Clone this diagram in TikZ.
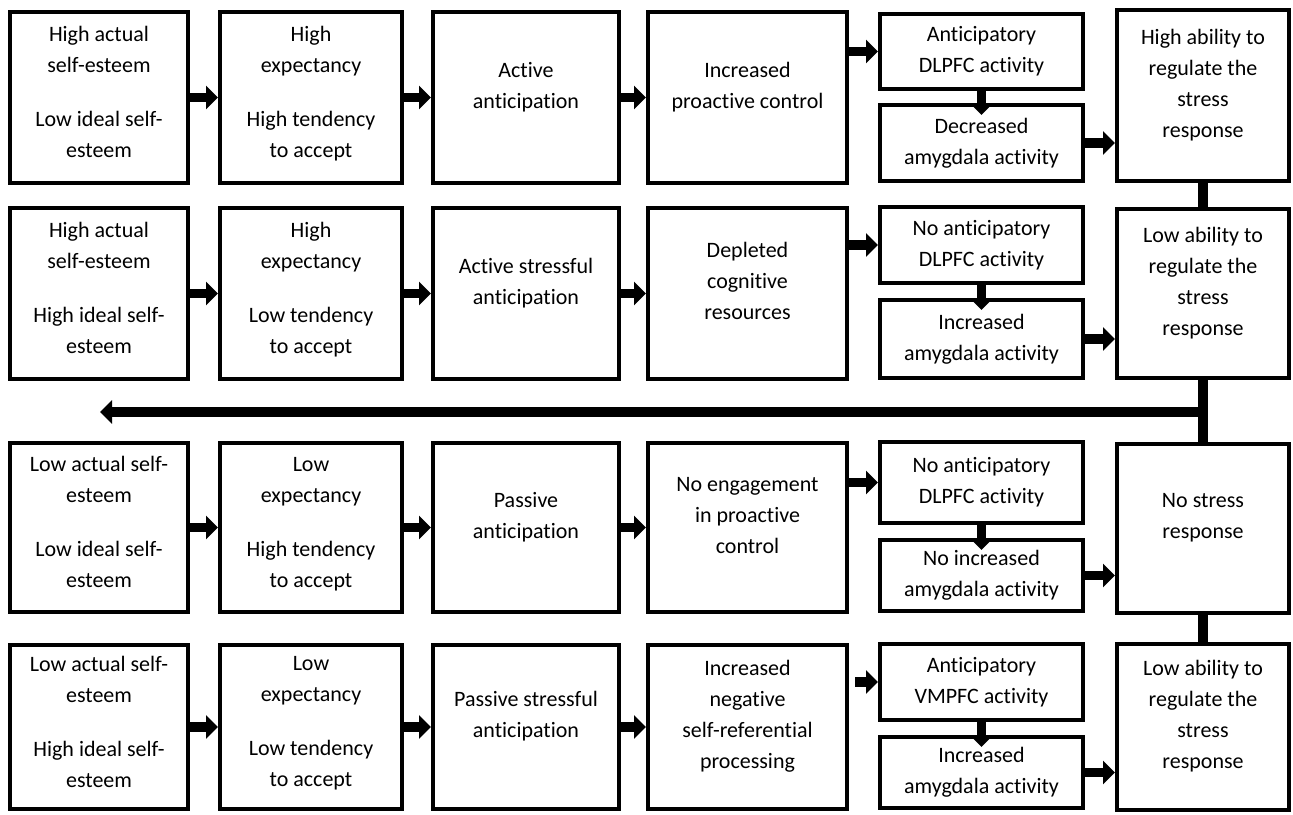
\documentclass[tikz,border=0pt]{standalone}
\usepackage{fontspec}
\setmainfont{Carlito}[Ligatures=NoCommon]
\usetikzlibrary{arrows.meta}

\tikzset{
  box/.style={draw, line width=4pt, align=center, inner sep=0pt,
    font=\fontsize{22pt}{31pt}\selectfont},
  lift/.style={text depth=25pt},
  esteem/.style={box, text depth=11pt, minimum width=178pt},
  expect/.style={box, text depth=11pt, minimum width=182pt},
  antic/.style={box, lift, minimum width=186pt},
  control/.style={box, lift, minimum width=199pt},
  brain/.style={box, minimum width=203pt},
  regul/.style={box, lift, minimum width=172pt},
  flow/.style={line width=9.5pt, -{Triangle[length=12pt,width=23pt]}},
  link/.style={line width=9.5pt},
}

\begin{document}
\begin{tikzpicture}[x=1pt,y=-1pt]
\useasboundingbox (0,0) rectangle (1293,814);
% row 1
\node[esteem, minimum height=171pt] (a1) at (99,97.5) {High actual\\self-esteem\\[23pt]Low ideal self-\\esteem};
\node[expect, minimum height=171pt] (b1) at (311,97.5) {High\\expectancy\\[23pt]High tendency\\to accept};
\node[antic, minimum height=171pt] (c1) at (526,97.5) {Active\\anticipation};
\node[control, minimum height=171pt] (d1) at (747.5,97.5) {Increased\\proactive control};
\node[brain, minimum height=75pt] (e1a) at (981.5,51.5) {Anticipatory\\DLPFC activity};
\node[brain, minimum height=76pt] (e1b) at (981.5,143) {Decreased\\amygdala activity};
\node[regul, minimum height=171pt] (f1) at (1203,95.5) {High ability to\\regulate the\\stress\\response};
% row 2
\node[esteem, minimum height=171pt] (a2) at (99,293.5) {High actual\\self-esteem\\[23pt]High ideal self-\\esteem};
\node[expect, minimum height=171pt] (b2) at (311,293.5) {High\\expectancy\\[23pt]Low tendency\\to accept};
\node[antic, minimum height=171pt] (c2) at (526,293.5) {Active stressful\\anticipation};
\node[control, minimum height=171pt] (d2) at (747.5,293.5) {Depleted\\cognitive\\resources};
\node[brain, minimum height=76pt] (e2a) at (981.5,245) {No anticipatory\\DLPFC activity};
\node[brain, minimum height=78pt] (e2b) at (981.5,339) {Increased\\amygdala activity};
\node[regul, minimum height=169pt] (f2) at (1203,293.5) {Low ability to\\regulate the\\stress\\response};
% row 3
\node[esteem, minimum height=169pt] (a3) at (99,527.5) {Low actual self-\\esteem\\[23pt]Low ideal self-\\esteem};
\node[expect, minimum height=169pt] (b3) at (311,527.5) {Low\\expectancy\\[23pt]High tendency\\to accept};
\node[antic, minimum height=169pt] (c3) at (526,527.5) {Passive\\anticipation};
\node[control, minimum height=169pt] (d3) at (747.5,527.5) {No engagement\\in proactive\\control};
\node[brain, minimum height=81pt] (e3a) at (981.5,482.5) {No anticipatory\\DLPFC activity};
\node[brain, minimum height=71pt] (e3b) at (981.5,575.5) {No increased\\amygdala activity};
\node[regul, minimum height=169pt] (f3) at (1203,528.5) {No stress\\response};
% row 4
\node[esteem, minimum height=164pt] (a4) at (99,727) {Low actual self-\\esteem\\[23pt]High ideal self-\\esteem};
\node[expect, minimum height=164pt] (b4) at (311,727) {Low\\expectancy\\[23pt]Low tendency\\to accept};
\node[antic, minimum height=164pt] (c4) at (526,727) {Passive stressful\\anticipation};
\node[control, minimum height=164pt] (d4) at (747.5,727) {Increased\\negative\\self-referential\\processing};
\node[brain, minimum height=76pt] (e4a) at (981.5,682) {Anticipatory\\VMPFC activity};
\node[brain, minimum height=71pt] (e4b) at (981.5,772.5) {Increased\\amygdala activity};
\node[regul, minimum height=166pt] (f4) at (1203,727) {Low ability to\\regulate the\\stress\\response};
%
\path[flow]
  (a1) edge (b1) (b1) edge (c1) (c1) edge (d1)
  (d1.east |- e1a) edge (e1a)
  (e1a) edge[shorten >=-12pt] (e1b)
  (e1b) edge (e1b -| f1.west)
  (a2) edge (b2) (b2) edge (c2) (c2) edge (d2)
  (d2.east |- e2a) edge (e2a)
  (e2a) edge[shorten >=-12pt] (e2b)
  (e2b) edge (e2b -| f2.west)
  (a3) edge (b3) (b3) edge (c3) (c3) edge (d3)
  (d3.east |- e3a) edge (e3a)
  (e3a) edge[shorten >=-12pt] (e3b)
  (e3b) edge (e3b -| f3.west)
  (a4) edge (b4) (b4) edge (c4) (c4) edge (d4)
  (d4.east |- e4a) edge[shorten <=6pt] (e4a)
  (e4a) edge[shorten >=-12pt] (e4b)
  (e4b) edge (e4b -| f4.west);
%
\draw[link] (f1) -- (f2) (f2) -- (f3) (f3) -- (f4);
\coordinate (back) at (100,412);
\draw[flow] (f2.south |- back) -- (back);
\end{tikzpicture}
\end{document}
